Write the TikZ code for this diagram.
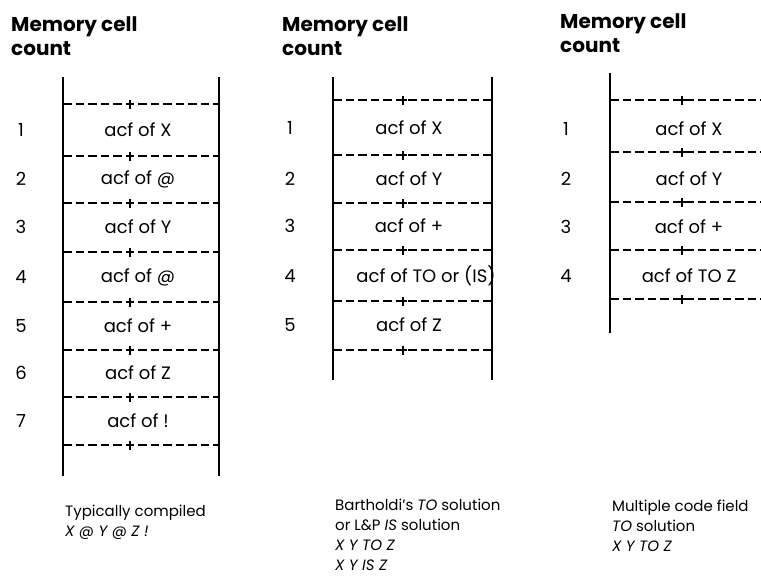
\documentclass[tikz,border=0pt]{standalone}
\usepackage{fontspec}
\setmainfont{Poppins}
\begin{document}
\begin{tikzpicture}[x=1pt,y=-1pt,
  rail/.style={line width=2.8pt},
  sep/.style={line width=2.6pt, dash pattern=on 8.5pt off 4pt},
  plusmark/.style={line width=1.8pt},
  cell/.style={font=\fontsize{18}{21}\selectfont, inner sep=0},
  num/.style={font=\fontsize{18}{21}\selectfont, inner sep=0},
  head/.style={font=\bfseries\fontsize{20}{24}\selectfont, align=left, anchor=north west, inner sep=0},
  captext/.style={font=\fontsize{15}{20}\selectfont, align=left, anchor=north west, inner sep=0}]
\useasboundingbox[fill=white] (0,0) rectangle (761,579);
% ---------- column 1 ----------
\node[head] (h1) at (11,16) {Memory cell\\count};
\coordinate (a1t) at (63,77); \coordinate (a1b) at (63,476);
\coordinate (b1t) at (219,77); \coordinate (b1b) at (219,476);
\draw[rail] (a1t) -- (a1b);
\draw[rail] (b1t) -- (b1b);
\foreach \y in {104,156,203,252,302,350,397,445}{
  \draw[sep] (63,\y) -- (219,\y);
  \draw[plusmark] (126,\y) -- (134,\y) (130,\y-4.5) -- (130,\y+4.5);
}
\foreach \y/\n/\t in {130/1/{acf of X},179/2/{acf of @},227/3/{acf of Y},277/4/{acf of @},326/5/{acf of +},373/6/{acf of Z},421/7/{acf of !}}{
  \node[num] (n1-\n) at (21,\y) {\n};
  \node[cell] (c1-\n) at (138,\y) {\t};
}
\node[captext] (k1) at (65,505) {Typically compiled\\\textit{X @ Y @ Z !}};
% ---------- column 2 ----------
\node[head] (h2) at (282,16) {Memory cell\\count};
\coordinate (a2t) at (333,77); \coordinate (a2b) at (333,380);
\coordinate (b2t) at (492,77); \coordinate (b2b) at (492,380);
\draw[rail] (a2t) -- (a2b);
\draw[rail] (b2t) -- (b2b);
\foreach \y in {100,155,203,250,301,350}{
  \draw[sep] (333,\y) -- (492,\y);
  \draw[plusmark] (399,\y) -- (407,\y) (403,\y-4.5) -- (403,\y+4.5);
}
\foreach \y/\n/\t/\x in {128/1/{acf of X}/409,179/2/{acf of Y}/409,226/3/{acf of +}/409,276/4/{acf of TO or (IS)}/426,325/5/{acf of Z}/409}{
  \node[num] (n2-\n) at (290,\y) {\n};
  \node[cell] (c2-\n) at (\x,\y) {\t};
}
\node[captext] (k2) at (335,499) {Bartholdi's \textit{TO} solution\\or L\&P \textit{IS} solution\\\textit{X Y TO Z}\\\textit{X Y IS Z}};
% ---------- column 3 ----------
\node[head] (h3) at (560,13) {Memory cell\\count};
\coordinate (a3t) at (610,73); \coordinate (a3b) at (610,333);
\draw[rail] (a3t) -- (a3b);
\foreach \y in {100,152,202,250,299}{
  \draw[sep] (610,\y) -- (761,\y);
  \draw[plusmark] (678,\y) -- (686,\y) (682,\y-4.5) -- (682,\y+4.5);
}
\foreach \y/\n/\t in {129/1/{acf of X},179/2/{acf of Y},227/3/{acf of +},276/4/{acf of TO Z}}{
  \node[num] (n3-\n) at (566,\y) {\n};
  \node[cell] (c3-\n) at (689,\y) {\t};
}
\node[captext] (k3) at (612,500) {Multiple code field\\\textit{TO} solution\\\textit{X Y TO Z}};
\end{tikzpicture}
\end{document}
